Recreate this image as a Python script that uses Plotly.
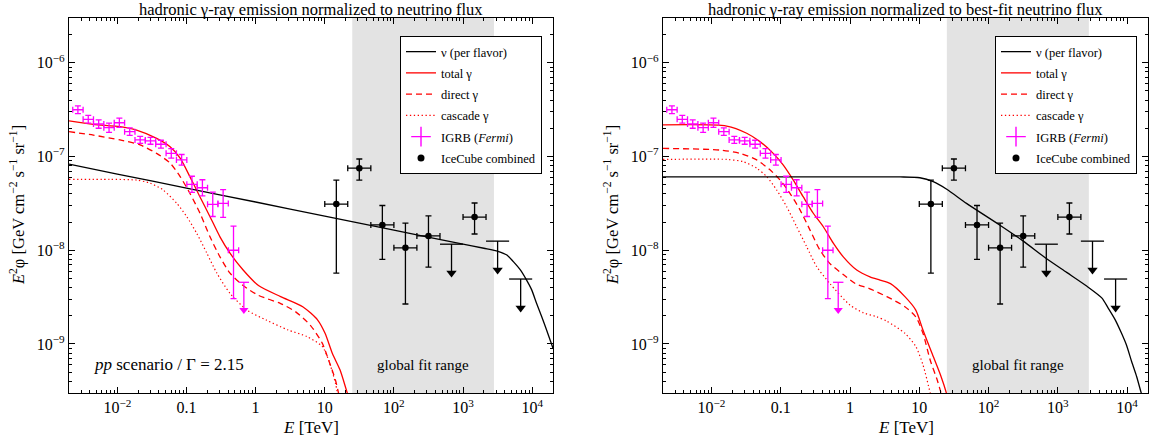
import numpy as np
import plotly.graph_objects as go

# ---------------- data ----------------
x_range = [2e-3, 2e4]
y_range = [3e-10, 3e-6]
fit_range = [25, 2800]

x_tick_vals = [1e-2, 0.1, 1, 10, 100, 1000, 1e4]
x_tick_text = ["10<sup>−2</sup>", "0.1", "1", "10", "10<sup>2</sup>", "10<sup>3</sup>", "10<sup>4</sup>"]
y_tick_vals = [1e-9, 1e-8, 1e-7, 1e-6]
y_tick_text = ["10<sup>−9</sup>", "10<sup>−8</sup>", "10<sup>−7</sup>", "10<sup>−6</sup>"]

titles = ["hadronic γ-ray emission normalized to neutrino flux",
          "hadronic γ-ray emission normalized to best-fit neutrino flux"]

# IGRB (Fermi)
igrb_E = [2.69e-3, 3.80e-3, 5.37e-3, 7.59e-3, 1.07e-2, 1.51e-2, 2.14e-2, 3.02e-2, 4.27e-2,
          6.03e-2, 8.51e-2, 0.120, 0.170, 0.240, 0.339, 0.479]
igrb_E_lo = [2.265e-3, 3.20e-3, 4.52e-3, 6.38e-3, 9.02e-3, 1.274e-2, 1.80e-2, 2.54e-2, 3.59e-2,
             5.07e-2, 7.16e-2, 0.1012, 0.1429, 0.2018, 0.2851, 0.4027]
igrb_E_hi = [3.20e-3, 4.52e-3, 6.38e-3, 9.02e-3, 1.274e-2, 1.80e-2, 2.54e-2, 3.59e-2, 5.07e-2,
             7.16e-2, 0.1012, 0.1429, 0.2018, 0.2851, 0.4027, 0.5689]
igrb_y = [3.15e-7, 2.49e-7, 2.22e-7, 2.03e-7, 2.29e-7, 1.84e-7, 1.50e-7, 1.47e-7, 1.35e-7,
          1.08e-7, 9.2e-8, 5.05e-8, 4.64e-8, 3.09e-8, 3.16e-8, 1.0e-8]
igrb_y_hi = [3.47e-7, 2.74e-7, 2.46e-7, 2.27e-7, 2.56e-7, 2.02e-7, 1.64e-7, 1.60e-7, 1.49e-7,
             1.21e-7, 1.05e-7, 6.15e-8, 5.65e-8, 4.17e-8, 4.42e-8, 1.81e-8]
igrb_y_lo = [2.87e-7, 2.27e-7, 2.00e-7, 1.81e-7, 2.04e-7, 1.68e-7, 1.38e-7, 1.35e-7, 1.23e-7,
             0.96e-7, 8.1e-8, 4.14e-8, 3.80e-8, 2.29e-8, 2.24e-8, 3.04e-9]
igrb_ul_E = [0.676]
igrb_ul_E_lo = [0.5689]
igrb_ul_E_hi = [0.8035]
igrb_ul_y = [4.55e-9]
igrb_ul_tip = [2.3e-9]

# IceCube combined
ic_E = [14.7, 31.6, 68.1, 146.8, 316.2, 1467.8]
ic_E_lo = [10, 21.5, 46.4, 100, 215, 1000]
ic_E_hi = [21.5, 46.4, 100, 215, 464, 2150]
ic_y = [3.11e-8, 7.5e-8, 1.86e-8, 1.06e-8, 1.42e-8, 2.26e-8]
ic_y_hi = [5.6e-8, 9.4e-8, 3.0e-8, 1.95e-8, 2.32e-8, 3.19e-8]
ic_y_lo = [5.7e-9, 5.6e-8, 8.0e-9, 2.67e-9, 6.6e-9, 1.49e-8]
ic_ul_E = [681.3, 3162, 6813]
ic_ul_E_lo = [464, 2150, 4640]
ic_ul_E_hi = [1000, 4640, 10000]
ic_ul_y = [1.16e-8, 1.25e-8, 4.93e-9]
ic_ul_tip = [5.7e-9, 6.15e-9, 2.42e-9]

# left panel model curves (pp, Gamma = 2.15)
nuL_E = [2e-3, 1e-2, 0.1, 1, 10, 100, 1000, 2000, 3200, 4300, 5300, 6700, 8300, 9800,
         11600, 13700, 16200, 20000]
nuL_y = [8.3e-8, 6.5e-8, 4.6e-8, 3.27e-8, 2.31e-8, 1.64e-8, 1.16e-8, 1.05e-8, 9.75e-9,
         8.9e-9, 7.6e-9, 6.2e-9, 4.8e-9, 3.8e-9, 2.7e-9, 1.96e-9, 1.4e-9, 9e-10]
totL_E = [2e-3, 4.5e-3, 0.0109, 0.019, 0.037, 0.058, 0.081, 0.112, 0.157, 0.219, 0.305,
          0.426, 0.66, 1.1, 2.3, 4.8, 7.9, 10.1, 12.9, 16.6, 21.2, 24]
totL_y = [2.40e-7, 2.2e-7, 2.08e-7, 1.91e-7, 1.56e-7, 1.27e-7, 9.6e-8, 6.1e-8, 3.7e-8,
          2.28e-8, 1.39e-8, 9.3e-9, 6.15e-9, 4.2e-9, 3.2e-9, 2.5e-9, 1.8e-9, 1.3e-9,
          7.9e-10, 5.3e-10, 3e-10, 2.3e-10]
dirL_E = [2e-3, 4.5e-3, 0.0109, 0.0213, 0.037, 0.058, 0.081, 0.112, 0.157, 0.219, 0.305,
          0.426, 0.66, 1.1, 2.3, 3.8, 6.2, 9.2, 11.4, 14.3, 15.8, 17]
dirL_y = [1.84e-7, 1.69e-7, 1.5e-7, 1.33e-7, 1.08e-7, 8.5e-8, 6.1e-8, 4.05e-8, 2.48e-8,
          1.39e-8, 8.5e-9, 5.7e-9, 4.2e-9, 3.3e-9, 2.7e-9, 2.2e-9, 1.58e-9, 1.02e-9,
          6.7e-10, 4.1e-10, 3e-10, 2.2e-10]
casL_E = [2e-3, 7.8e-3, 0.019, 0.0297, 0.046, 0.0725, 0.101, 0.141, 0.197, 0.275, 0.426,
          0.75, 1.42, 2.95, 5.5, 9.2, 11.4, 14.3, 15.5]
casL_y = [5.7e-8, 5.7e-8, 5.6e-8, 5.2e-8, 4.39e-8, 3.16e-8, 2.28e-8, 1.51e-8, 9.3e-9,
          5.7e-9, 3.47e-9, 2.3e-9, 1.8e-9, 1.41e-9, 1.2e-9, 9.4e-10, 6.7e-10, 3.8e-10, 2.8e-10]

# right panel model curves (best fit)
nuR_E = [2e-3, 1, 5.3, 10.2, 15.9, 24.9, 48, 146, 317, 690, 1340, 2600, 4300, 5300, 6700,
         8300, 9800, 11600, 13700, 16200, 20000]
nuR_y = [6.05e-8, 6.05e-8, 6.05e-8, 5.93e-8, 5.38e-8, 4.47e-8, 3.16e-8, 1.85e-8, 1.25e-8,
         8.1e-9, 5.8e-9, 4.15e-9, 3.1e-9, 2.43e-9, 1.82e-9, 1.3e-9, 9.7e-10, 6.5e-10,
         4.5e-10, 2.9e-10, 1.8e-10]
totR_E = [2e-3, 0.0166, 0.0323, 0.0502, 0.078, 0.109, 0.152, 0.212, 0.295, 0.412, 0.574,
          0.8, 1.25, 1.94, 2.71, 3.84, 6.2, 8.9, 11.3, 15.2, 20.6, 24.6, 28]
totR_y = [2.17e-7, 2.11e-7, 1.77e-7, 1.44e-7, 1.08e-7, 8.1e-8, 5.6e-8, 3.7e-8, 2.48e-8,
          1.78e-8, 1.19e-8, 8.5e-9, 6.15e-9, 5.2e-9, 4.8e-9, 4.4e-9, 3.2e-9, 2.3e-9,
          1.41e-9, 8e-10, 4.5e-10, 3e-10, 2e-10]
dirR_E = [2e-3, 0.0133, 0.0258, 0.045, 0.07, 0.098, 0.136, 0.19, 0.265, 0.369, 0.514, 0.8,
          1.2, 1.9, 3.4, 6.2, 8.9, 11.3, 14.4, 18.2, 20.6, 23]
dirR_y = [1.22e-7, 1.17e-7, 1.08e-7, 9.2e-8, 7.2e-8, 5.6e-8, 4.05e-8, 2.69e-8, 1.64e-8,
          1.0e-8, 7.2e-9, 5.5e-9, 4.4e-9, 3.9e-9, 3.2e-9, 2.5e-9, 1.95e-9, 1.3e-9, 6.7e-10,
          4.1e-10, 3e-10, 2.2e-10]
casR_E = [2e-3, 0.0166, 0.0289, 0.045, 0.0628, 0.0875, 0.122, 0.17, 0.237, 0.33, 0.514, 1.0,
          1.56, 2.43, 3.4, 6.2, 8.9, 11.3, 14.4, 16]
casR_y = [9.3e-8, 9.3e-8, 8.8e-8, 7.5e-8, 6.1e-8, 4.39e-8, 2.91e-8, 1.78e-8, 1.09e-8,
          6.7e-9, 4.4e-9, 2.6e-9, 2.15e-9, 1.95e-9, 1.75e-9, 1.3e-9, 9.4e-10, 6e-10, 3e-10, 2.2e-10]

legend_names = ["ν (per flavor)", "total γ", "direct γ", "cascade γ",
                "IGRB (<i>Fermi</i>)", "IceCube combined"]

# ---------------- styling ----------------
FONT = "Liberation Serif"
RED = "#ff0000"
MAG = "#ff00ff"
BLK = "#000000"
W, H = 1150, 441
xdomL = [69 / W, 553 / W]
xdomR = [663 / W, 1148 / W]
ydom = [1 - 393 / H, 1 - 18 / H]

fig = go.Figure()


def diff(a, b):
    return [ai - bi for ai, bi in zip(a, b)]


def add_panel(xa, ya, nuE, nuY, totE, totY, dirE, dirY, casE, casY, legend):
    common = dict(xaxis=xa, yaxis=ya, showlegend=False, hoverinfo="skip")
    fig.add_trace(go.Scatter(x=casE, y=casY, mode="lines", line=dict(color=RED, width=1.2, dash="1.3px,2.6px", shape="spline", smoothing=0.7), **common))
    fig.add_trace(go.Scatter(x=dirE, y=dirY, mode="lines", line=dict(color=RED, width=1.3, dash="6px,4px", shape="spline", smoothing=0.7), **common))
    fig.add_trace(go.Scatter(x=totE, y=totY, mode="lines", line=dict(color=RED, width=1.3, shape="spline", smoothing=0.7), **common))
    fig.add_trace(go.Scatter(x=nuE, y=nuY, mode="lines", line=dict(color=BLK, width=1.3, shape="spline", smoothing=0.7), **common))
    # IGRB points
    fig.add_trace(go.Scatter(
        x=igrb_E, y=igrb_y, mode="markers", marker=dict(size=1, color=MAG, opacity=0),
        error_x=dict(type="data", symmetric=False, array=diff(igrb_E_hi, igrb_E), arrayminus=diff(igrb_E, igrb_E_lo), color=MAG, thickness=1.3, width=3),
        error_y=dict(type="data", symmetric=False, array=diff(igrb_y_hi, igrb_y), arrayminus=diff(igrb_y, igrb_y_lo), color=MAG, thickness=1.3, width=3),
        **common))
    # IGRB upper limit
    fig.add_trace(go.Scatter(
        x=igrb_ul_E, y=igrb_ul_y, mode="markers", marker=dict(size=1, color=MAG, opacity=0),
        error_x=dict(type="data", symmetric=False, array=diff(igrb_ul_E_hi, igrb_ul_E), arrayminus=diff(igrb_ul_E, igrb_ul_E_lo), color=MAG, thickness=1.3, width=0),
        error_y=dict(type="data", symmetric=False, array=[0], arrayminus=diff(igrb_ul_y, igrb_ul_tip), color=MAG, thickness=1.3, width=0),
        **common))
    fig.add_trace(go.Scatter(x=igrb_ul_E, y=igrb_ul_tip, mode="markers",
                             marker=dict(symbol="triangle-down", size=8, color=MAG), **common))
    # IceCube points
    fig.add_trace(go.Scatter(
        x=ic_E, y=ic_y, mode="markers", marker=dict(size=6.5, color=BLK, symbol="circle"),
        error_x=dict(type="data", symmetric=False, array=diff(ic_E_hi, ic_E), arrayminus=diff(ic_E, ic_E_lo), color=BLK, thickness=1.3, width=3),
        error_y=dict(type="data", symmetric=False, array=diff(ic_y_hi, ic_y), arrayminus=diff(ic_y, ic_y_lo), color=BLK, thickness=1.3, width=3),
        **common))
    fig.add_trace(go.Scatter(
        x=ic_ul_E, y=ic_ul_y, mode="markers", marker=dict(size=1, color=BLK, opacity=0),
        error_x=dict(type="data", symmetric=False, array=diff(ic_ul_E_hi, ic_ul_E), arrayminus=diff(ic_ul_E, ic_ul_E_lo), color=BLK, thickness=1.3, width=0),
        error_y=dict(type="data", symmetric=False, array=[0, 0, 0], arrayminus=diff(ic_ul_y, ic_ul_tip), color=BLK, thickness=1.3, width=0),
        **common))
    fig.add_trace(go.Scatter(x=ic_ul_E, y=ic_ul_tip, mode="markers",
                             marker=dict(symbol="triangle-down", size=9, color=BLK), **common))
    # legend-only entries
    lg = dict(xaxis=xa, yaxis=ya, legend=legend, x=[None], y=[None], showlegend=True)
    fig.add_trace(go.Scatter(name=legend_names[0], mode="lines", line=dict(color=BLK, width=1.3), legendgroup=legend + "a", **lg))
    fig.add_trace(go.Scatter(name=legend_names[1], mode="lines", line=dict(color=RED, width=1.3), legendgroup=legend + "b", **lg))
    fig.add_trace(go.Scatter(name=legend_names[2], mode="lines", line=dict(color=RED, width=1.3, dash="6px,4px"), legendgroup=legend + "c", **lg))
    fig.add_trace(go.Scatter(name=legend_names[3], mode="lines", line=dict(color=RED, width=1.2, dash="1.3px,2.6px"), legendgroup=legend + "d", **lg))
    fig.add_trace(go.Scatter(name=legend_names[4], mode="markers", marker=dict(symbol="cross-thin", size=14, color=MAG, line=dict(color=MAG, width=1.4)), legendgroup=legend + "e", **lg))
    fig.add_trace(go.Scatter(name=legend_names[5], mode="markers", marker=dict(symbol="circle", size=7, color=BLK), legendgroup=legend + "f", **lg))


add_panel("x", "y", nuL_E, nuL_y, totL_E, totL_y, dirL_E, dirL_y, casL_E, casL_y, "legend")
add_panel("x2", "y2", nuR_E, nuR_y, totR_E, totR_y, dirR_E, dirR_y, casR_E, casR_y, "legend2")

minor_x = [m * 10.0 ** d for d in range(-3, 5) for m in range(2, 10)]
minor_y = [m * 10.0 ** d for d in range(-10, -5) for m in range(2, 10)]


def xaxis(dom, anchor):
    return dict(type="log", domain=dom, anchor=anchor, range=[np.log10(x_range[0]), np.log10(x_range[1])],
                tickmode="array", tickvals=x_tick_vals, ticktext=x_tick_text,
                ticks="inside", ticklen=6, tickwidth=1, tickcolor=BLK,
                minor=dict(tickmode="array", tickvals=minor_x, ticks="inside", ticklen=3, tickcolor=BLK, showgrid=False),
                showline=True, linecolor=BLK, linewidth=1.2, mirror="allticks", showgrid=False, zeroline=False,
                tickfont=dict(family=FONT, size=16, color=BLK))


def yaxis(anchor):
    return dict(type="log", domain=ydom, anchor=anchor, range=[np.log10(y_range[0]), np.log10(y_range[1])],
                tickmode="array", tickvals=y_tick_vals, ticktext=y_tick_text,
                ticks="inside", ticklen=6, tickwidth=1, tickcolor=BLK,
                minor=dict(tickmode="array", tickvals=minor_y, ticks="inside", ticklen=3, tickcolor=BLK, showgrid=False),
                showline=True, linecolor=BLK, linewidth=1.2, mirror="allticks", showgrid=False, zeroline=False,
                tickfont=dict(family=FONT, size=16, color=BLK))


shapes = []
for xr, yr in (("x", "y domain"), ("x2", "y2 domain")):
    shapes.append(dict(type="rect", xref=xr, yref=yr, x0=fit_range[0], x1=fit_range[1],
                       y0=0, y1=1, fillcolor="#e3e3e3", line=dict(width=0), layer="below"))

ylabel = "<i>E</i><sup>2</sup>φ [GeV cm<sup>−2</sup> s<sup>−1</sup> sr<sup>−1</sup>]"
annotations = []
for i, (xd, xr, yr) in enumerate(((xdomL, "x domain", "y domain"), (xdomR, "x2 domain", "y2 domain"))):
    annotations.append(dict(text=titles[i], xref="paper", yref="paper", x=(xd[0] + xd[1]) / 2, y=1 - 10 / H,
                            xanchor="center", yanchor="middle", showarrow=False, font=dict(family=FONT, size=16.5, color=BLK)))
    annotations.append(dict(text="<i>E</i> [TeV]", xref="paper", yref="paper", x=(xd[0] + xd[1]) / 2, y=1 - 427 / H,
                            xanchor="center", yanchor="middle", showarrow=False, font=dict(family=FONT, size=17, color=BLK)))
    annotations.append(dict(text=ylabel, xref="paper", yref="paper", x=xd[0] - 52 / W, y=1 - 205 / H, textangle=-90,
                            xanchor="center", yanchor="middle", showarrow=False, font=dict(family=FONT, size=16.5, color=BLK)))
    annotations.append(dict(text="global fit range", xref=xr, yref=yr, x=0.731, y=0.075,
                            xanchor="center", yanchor="middle", showarrow=False, font=dict(family=FONT, size=15, color=BLK)))
annotations.append(dict(text="<i>pp</i> scenario / Γ = 2.15", xref="x domain", yref="y domain", x=0.047, y=0.075,
                        xanchor="left", yanchor="middle", showarrow=False, font=dict(family=FONT, size=17, color=BLK)))

legend_style = dict(bgcolor="white", bordercolor=BLK, borderwidth=1, font=dict(family=FONT, size=12.5, color=BLK),
                    xanchor="left", yanchor="top", y=1 - 36 / H, itemwidth=30, traceorder="grouped",
                    tracegroupgap=2, itemclick=False)

fig.update_layout(
    width=W, height=H, margin=dict(l=0, r=0, t=0, b=0),
    paper_bgcolor="white", plot_bgcolor="white",
    xaxis=xaxis(xdomL, "y"), yaxis=yaxis("x"),
    xaxis2=xaxis(xdomR, "y2"), yaxis2=yaxis("x2"),
    shapes=shapes, annotations=annotations,
    legend=dict(x=400 / W, **legend_style),
    legend2=dict(x=995 / W, **legend_style),
    font=dict(family=FONT, color=BLK),
)

fig.write_html("out.html", config={"displayModeBar": False},
               post_script="document.body.style.margin='0px';document.body.style.overflow='hidden';")
